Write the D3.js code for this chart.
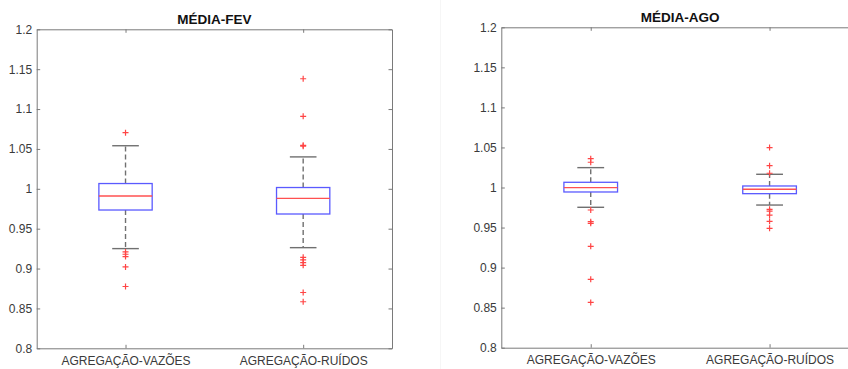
<!DOCTYPE html>
<html lang="pt">
	<head>
		<meta charset="utf-8">
		<title>Boxplots MÉDIA-FEV / MÉDIA-AGO</title>
		<script type="text/javascript" src="https://cdn.jsdelivr.net/npm/d3@7"></script>
		<style type="text/css">
			body { margin: 0; background: #fff; }
			svg { display: block; font-family: "Liberation Sans", Arial, Helvetica, sans-serif; }
		</style>
	</head>
	<body>
		<script type="text/javascript">
			//Width and height
			var w = 848;
			var h = 369;

			//Categories, titles and ticks
			var categories = ["AGREGAÇÃO-VAZÕES", "AGREGAÇÃO-RUÍDOS"];
			var titles = ["MÉDIA-FEV", "MÉDIA-AGO"];
			var yTicks = [0.8, 0.85, 0.9, 0.95, 1, 1.05, 1.1, 1.15, 1.2];
			var yTickLabels = ["0.8", "0.85", "0.9", "0.95", "1", "1.05", "1.1", "1.15", "1.2"];

			//MÉDIA-FEV box statistics (one value per category)
			var fevLowerWhisker = [0.925, 0.9262];
			var fevQ1 = [0.9734, 0.9684];
			var fevMedian = [0.991, 0.9879];
			var fevQ3 = [1.0066, 1.0016];
			var fevUpperWhisker = [1.054, 1.040];
			var fevOutliers = [
				[1.0704, 0.9208, 0.9179, 0.915, 0.9021, 0.8775],
				[1.138, 1.0909, 1.0534, 1.0545, 0.9141, 0.9109, 0.9075, 0.9041, 0.870, 0.8584]
			];

			//MÉDIA-AGO box statistics
			var agoLowerWhisker = [0.9753, 0.9781];
			var agoQ1 = [0.9944, 0.9923];
			var agoMedian = [0.9998, 0.9978];
			var agoQ3 = [1.0065, 1.0019];
			var agoUpperWhisker = [1.0248, 1.0165];
			var agoOutliers = [
				[1.036, 1.0315, 0.9719, 0.9573, 0.9553, 0.9265, 0.8853, 0.8565],
				[1.0498, 1.0273, 1.0178, 0.9728, 0.9706, 0.9656, 0.9578, 0.949]
			];

			function buildBoxes(lw, q1, med, q3, uw, out) {
				return categories.map(function(c, i) {
					return { cat: c, lw: lw[i], q1: q1[i], med: med[i], q3: q3[i], uw: uw[i], out: out[i] };
				});
			}

			var panels = [
				{ title: titles[0], left: 36.7, right: 392, top: 29.3, bottom: 348.3,
				  boxes: buildBoxes(fevLowerWhisker, fevQ1, fevMedian, fevQ3, fevUpperWhisker, fevOutliers) },
				{ title: titles[1], left: 501.3, right: 859, top: 27.3, bottom: 347.7,
				  boxes: buildBoxes(agoLowerWhisker, agoQ1, agoMedian, agoQ3, agoUpperWhisker, agoOutliers) }
			];

			//Create SVG element
			var svg = d3.select("body")
						.append("svg")
						.attr("width", w)
						.attr("height", h);

			//faint frame edge of the second figure
			svg.append("line")
			   .attr("x1", 440.5).attr("x2", 440.5)
			   .attr("y1", 0).attr("y2", h)
			   .attr("stroke", "#f6f6f6")
			   .attr("stroke-width", 1);

			panels.forEach(function(p) {
				var xScale = d3.scalePoint()
								.domain(categories)
								.range([p.left, p.right])
								.padding(0.5);
				var yScale = d3.scaleLinear()
								.domain([0.8, 1.2])
								.range([p.bottom, p.top]);
				var boxW = xScale.step() * 0.3;
				var capW = boxW / 2;

				var g = svg.append("g");

				//Axes with inward ticks
				g.append("g")
				 .attr("class", "axis")
				 .attr("transform", "translate(" + p.left + ",0)")
				 .call(d3.axisLeft(yScale)
						.tickValues(yTicks)
						.tickFormat(function(d, i) { return yTickLabels[i]; })
						.tickSizeInner(-3.5)
						.tickSizeOuter(0)
						.tickPadding(4.5));
				g.append("g")
				 .attr("class", "axis")
				 .attr("transform", "translate(" + p.right + ",0)")
				 .call(d3.axisRight(yScale)
						.tickValues(yTicks)
						.tickFormat("")
						.tickSizeInner(-3.5)
						.tickSizeOuter(0));
				g.append("g")
				 .attr("class", "axis")
				 .attr("transform", "translate(0," + p.bottom + ")")
				 .call(d3.axisBottom(xScale)
						.tickSizeInner(-3.5)
						.tickSizeOuter(0)
						.tickPadding(8));
				g.append("g")
				 .attr("class", "axis")
				 .attr("transform", "translate(0," + p.top + ")")
				 .call(d3.axisTop(xScale)
						.tickFormat("")
						.tickSizeInner(-3.5)
						.tickSizeOuter(0));
				g.selectAll(".axis text").attr("fill", "#3a3a3a").attr("font-size", "12px");
				g.selectAll(".axis path, .axis line").attr("stroke", "#7a7a7a");

				//Title
				g.append("text")
				 .attr("x", (p.left + p.right) / 2)
				 .attr("y", p.top - 5.5)
				 .attr("text-anchor", "middle")
				 .attr("font-size", "13.5px")
				 .attr("font-weight", "bold")
				 .attr("fill", "#111")
				 .text(p.title);

				var box = g.selectAll(".box")
						   .data(p.boxes)
						   .enter()
						   .append("g")
						   .attr("class", "box");

				//Whiskers (dashed)
				box.append("line")
				   .attr("x1", function(d) { return xScale(d.cat); })
				   .attr("x2", function(d) { return xScale(d.cat); })
				   .attr("y1", function(d) { return yScale(d.q3); })
				   .attr("y2", function(d) { return yScale(d.uw); })
				   .attr("stroke", "#707070")
				   .attr("stroke-width", 1.4)
				   .attr("stroke-dasharray", "5,3");
				box.append("line")
				   .attr("x1", function(d) { return xScale(d.cat); })
				   .attr("x2", function(d) { return xScale(d.cat); })
				   .attr("y1", function(d) { return yScale(d.q1); })
				   .attr("y2", function(d) { return yScale(d.lw); })
				   .attr("stroke", "#707070")
				   .attr("stroke-width", 1.4)
				   .attr("stroke-dasharray", "5,3");

				//Caps
				["uw", "lw"].forEach(function(k) {
					box.append("line")
					   .attr("x1", function(d) { return xScale(d.cat) - capW / 2; })
					   .attr("x2", function(d) { return xScale(d.cat) + capW / 2; })
					   .attr("y1", function(d) { return yScale(d[k]); })
					   .attr("y2", function(d) { return yScale(d[k]); })
					   .attr("stroke", "#707070")
					   .attr("stroke-width", 1.4);
				});

				//Box
				box.append("rect")
				   .attr("x", function(d) { return xScale(d.cat) - boxW / 2; })
				   .attr("y", function(d) { return yScale(d.q3); })
				   .attr("width", boxW)
				   .attr("height", function(d) { return yScale(d.q1) - yScale(d.q3); })
				   .attr("fill", "none")
				   .attr("stroke", "#5a5aff")
				   .attr("stroke-width", 1.3);

				//Median
				box.append("line")
				   .attr("x1", function(d) { return xScale(d.cat) - boxW / 2; })
				   .attr("x2", function(d) { return xScale(d.cat) + boxW / 2; })
				   .attr("y1", function(d) { return yScale(d.med); })
				   .attr("y2", function(d) { return yScale(d.med); })
				   .attr("stroke", "#ff5050")
				   .attr("stroke-width", 1.3);

				//Outliers as red plus signs
				box.selectAll(".out")
				   .data(function(d) { return d.out.map(function(v) { return { cat: d.cat, v: v }; }); })
				   .enter()
				   .append("path")
				   .attr("class", "out")
				   .attr("d", function(d) {
						var cx = xScale(d.cat), cy = yScale(d.v), r = 3;
						return "M" + (cx - r) + "," + cy + "H" + (cx + r) + "M" + cx + "," + (cy - r) + "V" + (cy + r);
				   })
				   .attr("stroke", "#ff4545")
				   .attr("stroke-width", 1.2)
				   .attr("fill", "none");
			});
		</script>
	</body>
</html>
